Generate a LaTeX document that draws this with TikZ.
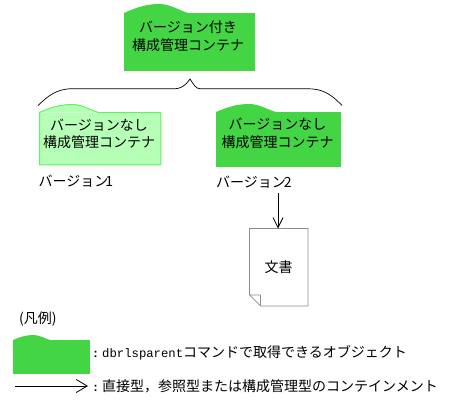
\documentclass[tikz,border=0pt]{standalone}
\usepackage{fontspec}
\setmainfont{Noto Sans CJK JP}
\newfontfamily\latinmono{Liberation Mono}
\usetikzlibrary{arrows.meta,calc}
\definecolor{dgreen}{HTML}{43D544}
\definecolor{lgreen}{HTML}{B6FFB6}
\definecolor{lborder}{HTML}{66EE66}
\definecolor{docgray}{HTML}{8C8C8C}
\newcommand{\bumpcurve}[3]{% node, end offset, height (plain numbers)
  (#1.north west) .. controls ($(#1.north west)+({0.2*#2},{-0.65*#3})$) and ($(#1.north west)+({0.36*#2},{-#3})$) ..
  ($(#1.north west)+({0.55*#2},{-#3})$) .. controls ($(#1.north west)+({0.72*#2},{-#3})$) and ($(#1.north west)+({0.84*#2},{-0.35*#3})$) ..
  ($(#1.north west)+(#2,0)$)}
\newcommand{\monotxt}[1]{{\latinmono\fontsize{12.27pt}{14pt}\selectfont #1}}
\newcommand{\colonmark}{\makebox[10pt][l]{\latinmono\bfseries\fontsize{11.67pt}{14pt}\selectfont :}}
\tikzset{
  x=1pt,y=-1pt,
  every node/.style={font=\fontsize{14pt}{17.5pt}\selectfont,inner sep=0pt},
  body/.style={fill=dgreen,minimum width=#1,align=center,anchor=north west},
  lightbody/.style={fill=lgreen,minimum width=#1,align=center,anchor=north west},
  txt/.style={anchor=west},
  conn/.style={draw=black,line width=0.8pt},
  arr/.style={conn,-{Straight Barb[length=10pt,width=10pt,line width=0.8pt]}},
  arrbig/.style={conn,-{Straight Barb[length=11pt,width=13pt,line width=0.8pt]}},
}
\begin{document}
\begin{tikzpicture}
\useasboundingbox (0,0) rectangle (454,402);
% top container
\node[body=131pt,minimum height=58pt] (top) at (124,13) {};
\fill[dgreen] \bumpcurve{top}{64}{9} -- cycle;
\node (toptxt) at (188,36.5) [align=center] {バージョン付き\\構成管理コンテナ};
% version 1
\node[lightbody=121pt,minimum height=52pt] (vone) at (39.5,112.5) {};
\fill[lgreen] \bumpcurve{vone}{59}{8} -- cycle;
\draw[lborder,line width=1pt] \bumpcurve{vone}{59}{8} -- (vone.north east) -- (vone.south east) -- (vone.south west) -- cycle;
\node (vonetxt) at (99,134) [align=center] {バージョンなし\\構成管理コンテナ};
\node[txt] (vonelab) at (38.5,181) {バージョン\hspace{-3pt}1};
% version 2
\node[body=125pt,minimum height=55pt] (vtwo) at (216,112) {};
\fill[dgreen] \bumpcurve{vtwo}{60}{8} -- cycle;
\node (vtwotxt) at (277.5,133.5) [align=center] {バージョンなし\\構成管理コンテナ};
\node[txt] (vtwolab) at (216,182) {バージョン\hspace{-2pt}2};
% brace
\draw[conn,line width=0.7pt] (38,105.5) .. controls (48,96) and (56,89) .. (72,88.7) -- (173,88.7)
  .. controls (181,89) and (185,86) .. (190,79) .. controls (194,85) and (196,88.7) .. (200,88.7)
  -- (308,88.7) .. controls (322,89) and (330,93) .. (342,105.5);
% document
\coordinate (arrstart) at (278,193);
\node[minimum width=58pt,minimum height=77pt,anchor=north west] (doc) at (249.5,228.5) {文書};
\draw[docgray,line width=0.8pt] (doc.north west) -- (doc.north east) -- (doc.south east) -- ($(doc.south west)+(11,0)$) -- ($(doc.south west)+(0,-11)$) -- cycle
  ($(doc.south west)+(0,-11)$) -- ($(doc.south west)+(11,-11)$) -- ($(doc.south west)+(11,0)$);
\draw[arr] (arrstart) -- (doc.north -| arrstart);
% legend
\node[txt] (legtitle) at (19,319.5) {(凡例)};
\node[body=77pt,minimum height=34pt] (legbox) at (13,340) {};
\fill[dgreen] \bumpcurve{legbox}{37}{5} -- cycle;
\node[txt] (legone) at (92,353) {\colonmark\makebox[81pt][l]{\monotxt{dbrlsparent}}コマンドで取得できるオブジェクト};
\coordinate (legarrstart) at (15,386);
\coordinate (legarrend) at (88,386);
\node[txt] (legtwo) at (92,386) {\colonmark 直接型，参照型または構成管理型のコンテインメント};
\draw[arrbig] (legarrstart) -- (legarrend);
\end{tikzpicture}
\end{document}
